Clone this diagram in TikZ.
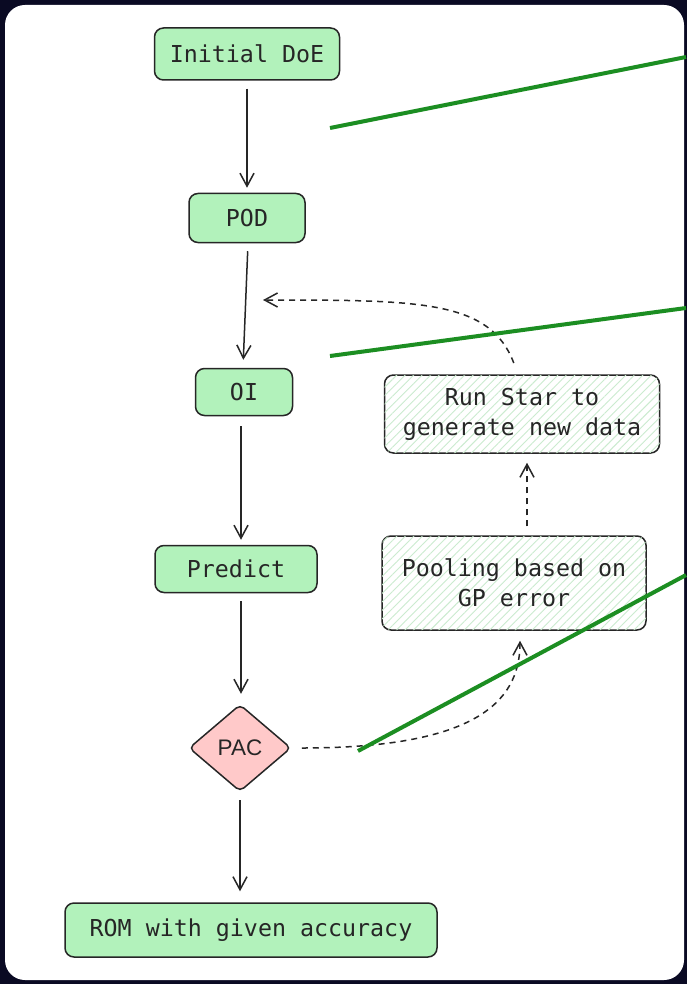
\documentclass[tikz,border=0pt]{standalone}
\usepackage{fontspec}
\setmonofont{DejaVu Sans Mono}
\setsansfont{Liberation Sans}
\usetikzlibrary{arrows.meta,patterns.meta,shapes.geometric}
\definecolor{bgnavy}{HTML}{0A0A23}
\definecolor{nodegreen}{HTML}{B2F2BB}
\definecolor{nodered}{HTML}{FFC9C9}
\definecolor{inkc}{HTML}{262626}
\definecolor{hatchg}{HTML}{CBEBCF}
\definecolor{lineg}{HTML}{1C8E22}
\tikzset{
  box/.style={draw=inkc, line width=1.5pt, rounded corners=9pt, inner sep=0pt, text=inkc,
    font=\ttfamily\fontsize{23.3}{30}\selectfont, align=center},
  greenbox/.style={box, fill=nodegreen},
  hatchbox/.style={box, fill=white, postaction={pattern={Lines[angle=45,distance=6pt,line width=0.9pt]}, pattern color=hatchg}},
  pacbox/.style={diamond, draw=inkc, line width=1.5pt, rounded corners=5pt, fill=nodered, inner sep=0pt,
    text=inkc, font=\sffamily\fontsize{22.5}{24}\selectfont},
  arr/.style={draw=inkc, line width=1.5pt, -{Straight Barb[length=13pt,width=14pt,line width=1.5pt]}},
  darr/.style={arr, dash pattern=on 6pt off 5pt},
  greenline/.style={draw=lineg, line width=4pt}
}
\begin{document}
\begin{tikzpicture}[x=1pt,y=-1pt]
\fill[bgnavy] (0,0) rectangle (687,984);
\useasboundingbox (0,0) rectangle (687,984);
\fill[white, rounded corners=20pt] (5,5) rectangle (684,980);

\node[greenbox, minimum width=185pt, minimum height=52pt] (doe) at (247,54) {Initial DoE};
\node[greenbox, minimum width=116pt, minimum height=49pt] (pod) at (247,218) {POD};
\node[greenbox, minimum width=97pt, minimum height=47pt] (oi) at (244,392) {OI};
\node[greenbox, minimum width=162pt, minimum height=47pt] (pred) at (236,569) {Predict};
\node[pacbox, minimum width=102pt, minimum height=87pt] (pac) at (240,748) {PAC};
\node[greenbox, minimum width=372pt, minimum height=54pt] (rom) at (251,930) {ROM with given accuracy};
\node[hatchbox, minimum width=275pt, minimum height=78pt] (run) at (522,414) {Run Star to\\generate new data};
\node[hatchbox, minimum width=264pt, minimum height=94pt] (pool) at (514,583) {Pooling based on\\GP error};

\draw[arr, shorten <=8pt, shorten >=5pt] (doe.south) -- (pod.north);
\draw[arr, shorten <=8pt, shorten >=8pt] ([xshift=1pt]pod.south) -- ([xshift=-1pt]oi.north);
\draw[arr, shorten <=10pt, shorten >=5pt] ([xshift=-3pt]oi.south) -- ([xshift=5pt]pred.north);
\draw[arr, shorten <=8pt, shorten >=10pt] ([xshift=5pt]pred.south) -- ([xshift=1pt]pac.north);
\draw[arr, shorten <=8pt, shorten >=11pt] (pac.south) -- ([xshift=-11pt]rom.north);

\draw[darr, shorten <=10pt, shorten >=10pt] (pac.east) .. controls (470,748) and (520,705) .. ([xshift=6pt]pool.south);
\draw[darr, shorten <=9pt, shorten >=9pt] ([xshift=13pt]pool.north) -- ([xshift=5pt]run.south);
\coordinate (ret) at (263,300);
\draw[darr, shorten <=12pt] ([xshift=-4pt]run.north) .. controls (490,300) and (420,300) .. (ret);

\coordinate (g1a) at (330,128); \coordinate (g1b) at (686,57);
\coordinate (g2a) at (330,356); \coordinate (g2b) at (686,308);
\coordinate (g3a) at (358,751); \coordinate (g3b) at (686,575);
\draw[greenline] (g1a) -- (g1b);
\draw[greenline] (g2a) -- (g2b);
\draw[greenline] (g3a) -- (g3b);
\end{tikzpicture}
\end{document}
